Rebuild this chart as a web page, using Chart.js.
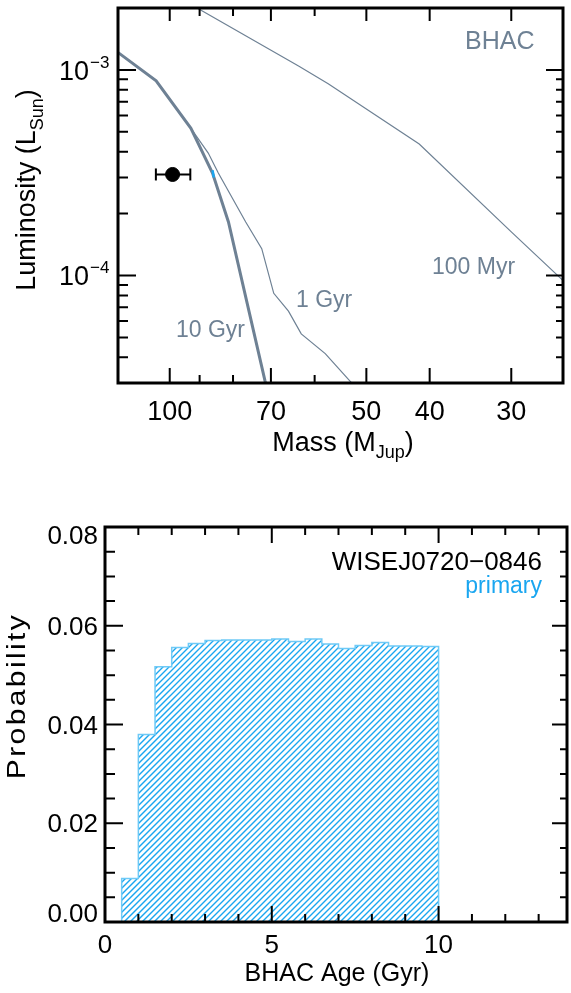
<!DOCTYPE html>
<html>
<head>
<meta charset="utf-8">
<script src="https://cdn.jsdelivr.net/npm/chart.js@4/dist/chart.umd.min.js"></script>
<style>
  body { margin: 0; background: #fff; }
  canvas { display: block; }
</style>
</head>
<body>
<canvas id="tracks" width="571" height="480"></canvas>
<canvas id="ages" width="571" height="513"></canvas>
<script>
// BHAC isochrones (mass in MJup, luminosity in LSun)
const mass10Gyr = [125, 120.2, 104.9, 92.8, 86.0, 81.3, 71.5, 70.5];
const lum10Gyr = [1.34e-3, 1.22e-3, 8.85e-4, 5.2e-4, 3.15e-4, 1.82e-4, 3.09e-5, 2.6e-5];
const mass1Gyr = [125, 120.2, 104.9, 92.8, 87.3, 84.3, 76.5, 72.3, 69.3, 65.8, 62.9, 57.8, 52.8, 51.5];
const lum1Gyr = [1.34e-3, 1.22e-3, 8.85e-4, 5.2e-4, 3.94e-4, 3.16e-4, 1.82e-4, 1.35e-4, 8.19e-5, 6.71e-5, 5.2e-5, 4.17e-5, 3.03e-5, 2.75e-5];
const mass100Myr = [110, 90.1, 63.5, 57.2, 41.5, 30.0, 25.2, 24];
const lum100Myr = [2.83e-3, 1.97e-3, 1.045e-3, 8.57e-4, 4.36e-4, 1.63e-4, 9.68e-5, 8.37e-5];

// measured object and the primary's model mass
const objMass = 99, objMassLo = 93, objMassHi = 105, objLum = 3.1e-4;
const primaryMass = [86.0, 85.6];
const primaryLum = [3.25e-4, 3.0e-4];

const massTicks = [100, 70, 50, 40, 30];
const massMinor = [90, 80, 60];
const lumTicks = [1e-3, 1e-4];
const lumTickExp = ['\u22123', '\u22124'];
const lumMinor = [9e-4, 8e-4, 7e-4, 6e-4, 5e-4, 4e-4, 3e-4, 2e-4, 9e-5, 8e-5, 7e-5, 6e-5, 5e-5, 4e-5, 3e-5];

// age posterior histogram (0.5 Gyr bins)
const ageBinLeft = [0.5, 1.0, 1.5, 2.0, 2.5, 3.0, 3.5, 4.0, 4.5, 5.0, 5.5, 6.0, 6.5, 7.0, 7.5, 8.0, 8.5, 9.0, 9.5];
const ageBinRight = 10;
const ageProb = [0.0088, 0.0380, 0.0517, 0.0556, 0.0564, 0.0570, 0.0571, 0.0571, 0.0571, 0.0573, 0.0568, 0.0573, 0.0563, 0.0554, 0.0560, 0.0566, 0.0559, 0.0559, 0.0558];

const ageTicks = [0, 5, 10];
const ageTickLabels = ['0', '5', '10'];
const ageMinor = [1, 2, 3, 4, 6, 7, 8, 9, 11, 12, 13];
const probTicks = [0, 0.02, 0.04, 0.06, 0.08];
const probTickLabels = ['0.00', '0.02', '0.04', '0.06', '0.08'];
const probMinor = [0.005, 0.01, 0.015, 0.025, 0.03, 0.035, 0.045, 0.05, 0.055, 0.065, 0.07, 0.075];

const SLATE = '#6e8194';
const BLUE = '#1aa6f0';
const FONT = '"Liberation Sans", Arial, sans-serif';

const pts = (xs, ys) => xs.map((x, i) => ({ x, y: ys[i] }));

function txt(ctx, s, x, y, size, color, align) {
  ctx.font = size + 'px ' + FONT;
  ctx.fillStyle = color;
  ctx.textAlign = align || 'left';
  ctx.textBaseline = 'alphabetic';
  ctx.fillText(s, x, y);
}

// text made of pieces with their own size and baseline shift, centred on x
function richText(ctx, parts, x, y, color) {
  let w = 0;
  parts.forEach(p => { ctx.font = p.size + 'px ' + FONT; p.w = ctx.measureText(p.t).width; w += p.w; });
  let cx = x - w / 2;
  parts.forEach(p => { txt(ctx, p.t, cx, y + (p.dy || 0), p.size, color, 'left'); cx += p.w; });
}

function ticks(chart, axis, values, lenA, lenB) {
  const { ctx, chartArea: a } = chart;
  const s = chart.scales[axis];
  ctx.beginPath();
  values.forEach(v => {
    const p = s.getPixelForValue(v);
    if (axis === 'x') {
      ctx.moveTo(p, a.bottom); ctx.lineTo(p, a.bottom - lenA);
      ctx.moveTo(p, a.top); ctx.lineTo(p, a.top + lenB);
    } else {
      ctx.moveTo(a.left, p); ctx.lineTo(a.left + lenA, p);
      ctx.moveTo(a.right, p); ctx.lineTo(a.right - lenB, p);
    }
  });
  ctx.stroke();
}

function frame(chart) {
  const { ctx, chartArea: a } = chart;
  ctx.strokeStyle = '#000';
  ctx.lineWidth = 3;
  ctx.strokeRect(a.left, a.top, a.right - a.left, a.bottom - a.top);
  ctx.lineWidth = 2;
}

const tracksAxes = {
  id: 'tracksAxes',
  afterDraw(chart) {
    const { ctx } = chart;
    const x = chart.scales.x, y = chart.scales.y;
    ctx.save();
    frame(chart);
    ticks(chart, 'x', massTicks, 15, 13);
    ticks(chart, 'x', massMinor, 8, 8);
    ticks(chart, 'y', lumTicks, 18, 17);
    ticks(chart, 'y', lumMinor, 10, 7);

    massTicks.forEach(m => txt(ctx, String(m), x.getPixelForValue(m), 420, 27, '#000', 'center'));
    lumTicks.forEach((l, i) => {
      const p = y.getPixelForValue(l);
      txt(ctx, '10', 89, p + 10, 27, '#000', 'right');
      txt(ctx, lumTickExp[i], 90, p - 2, 17, '#000', 'left');
    });

    richText(ctx, [{ t: 'Mass (M', size: 27 }, { t: 'Jup', size: 18, dy: 7 }, { t: ')', size: 27 }], 343, 451, '#000');
    ctx.save();
    ctx.translate(35, 190);
    ctx.rotate(-Math.PI / 2);
    richText(ctx, [{ t: 'Luminosity (L', size: 27 }, { t: 'Sun', size: 18, dy: 8 }, { t: ')', size: 27 }], 0, 0, '#000');
    ctx.restore();

    txt(ctx, 'BHAC', 465, 49, 25, SLATE);
    txt(ctx, '100 Myr', 432, 274, 23, SLATE);
    txt(ctx, '1 Gyr', 296, 307, 23, SLATE);
    txt(ctx, '10 Gyr', 176, 337, 23, SLATE);
    ctx.restore();
  }
};

new Chart(document.getElementById('tracks'), {
  type: 'line',
  data: {
    datasets: [
      { type: 'scatter', data: [{ x: objMass, y: objLum }], pointRadius: 7, backgroundColor: '#000', borderColor: '#000' },
      { data: [{ x: objMassLo, y: objLum }, { x: objMassHi, y: objLum }], borderColor: '#000', borderWidth: 2,
        pointStyle: 'line', rotation: 90, pointRadius: 6, pointBorderWidth: 2, pointBorderColor: '#000' },
      { data: pts(primaryMass, primaryLum), borderColor: BLUE, borderWidth: 2.5, pointRadius: 0 },
      { data: pts(mass10Gyr, lum10Gyr), borderColor: SLATE, borderWidth: 3, pointRadius: 0 },
      { data: pts(mass1Gyr, lum1Gyr), borderColor: SLATE, borderWidth: 1.2, pointRadius: 0 },
      { data: pts(mass100Myr, lum100Myr), borderColor: SLATE, borderWidth: 1.2, pointRadius: 0 }
    ]
  },
  options: {
    responsive: false,
    animation: false,
    layout: { padding: { left: 118, top: 3, right: 4, bottom: 97 } },
    plugins: { legend: { display: false }, tooltip: { enabled: false } },
    scales: {
      x: { type: 'logarithmic', min: 25, max: 120, reverse: true, display: false },
      y: { type: 'logarithmic', min: 3e-5, max: 2e-3, display: false }
    }
  },
  plugins: [tracksAxes]
});

const steps = [{ x: ageBinLeft[0], y: 0 }]
  .concat(pts(ageBinLeft, ageProb))
  .concat([{ x: ageBinRight, y: ageProb[ageProb.length - 1] }, { x: ageBinRight, y: 0 }]);

const agesAxes = {
  id: 'agesAxes',
  // "/" hatching inside the histogram outline
  beforeDatasetsDraw(chart) {
    const { ctx, chartArea: a } = chart;
    const outline = chart.getDatasetMeta(0).dataset;
    const h = a.bottom - a.top;
    ctx.save();
    ctx.beginPath();
    outline.path(ctx);
    ctx.closePath();
    ctx.clip();
    ctx.strokeStyle = BLUE;
    ctx.lineWidth = 1.4;
    ctx.beginPath();
    for (let k = -h; k < a.right - a.left; k += 6) {
      ctx.moveTo(a.left + k, a.bottom);
      ctx.lineTo(a.left + k + h, a.top);
    }
    ctx.stroke();
    ctx.restore();
  },
  afterDraw(chart) {
    const { ctx, chartArea: a } = chart;
    const x = chart.scales.x, y = chart.scales.y;
    ctx.save();
    frame(chart);
    ticks(chart, 'x', ageTicks, 16, 16);
    ticks(chart, 'x', ageMinor, 8, 8);
    ticks(chart, 'y', probTicks, 18, 15);
    ticks(chart, 'y', probMinor, 10, 7);

    ageTicks.forEach((v, i) => txt(ctx, ageTickLabels[i], x.getPixelForValue(v), 473, 26, '#000', 'center'));
    probTicks.forEach((v, i) => {
      const p = Math.min(Math.max(y.getPixelForValue(v), a.top + 8), a.bottom - 9);
      txt(ctx, probTickLabels[i], 98, p + 9, 26, '#000', 'right');
    });

    txt(ctx, 'BHAC Age (Gyr)', 337, 501, 25, '#000', 'center');
    ctx.save();
    ctx.translate(25, 216);
    ctx.rotate(-Math.PI / 2);
    ctx.scale(1.2, 1);
    ctx.letterSpacing = '2px';
    txt(ctx, 'Probability', 0, 0, 25, '#000', 'center');
    ctx.restore();

    txt(ctx, 'WISEJ0720\u22120846', 542, 90, 26, '#000', 'right');
    txt(ctx, 'primary', 542, 113, 23, BLUE, 'right');
    ctx.restore();
  }
};

new Chart(document.getElementById('ages'), {
  type: 'line',
  data: {
    datasets: [{
      data: steps,
      stepped: true,
      fill: false,
      borderColor: '#6fcaf6',
      borderWidth: 1.5,
      pointRadius: 0
    }]
  },
  options: {
    responsive: false,
    animation: false,
    layout: { padding: { left: 105, top: 47, right: 4, bottom: 71 } },
    plugins: { legend: { display: false }, tooltip: { enabled: false } },
    scales: {
      x: { type: 'linear', min: 0, max: 13.85, display: false },
      y: { type: 'linear', min: 0, max: 0.08, display: false }
    }
  },
  plugins: [agesAxes]
});
</script>
</body>
</html>
